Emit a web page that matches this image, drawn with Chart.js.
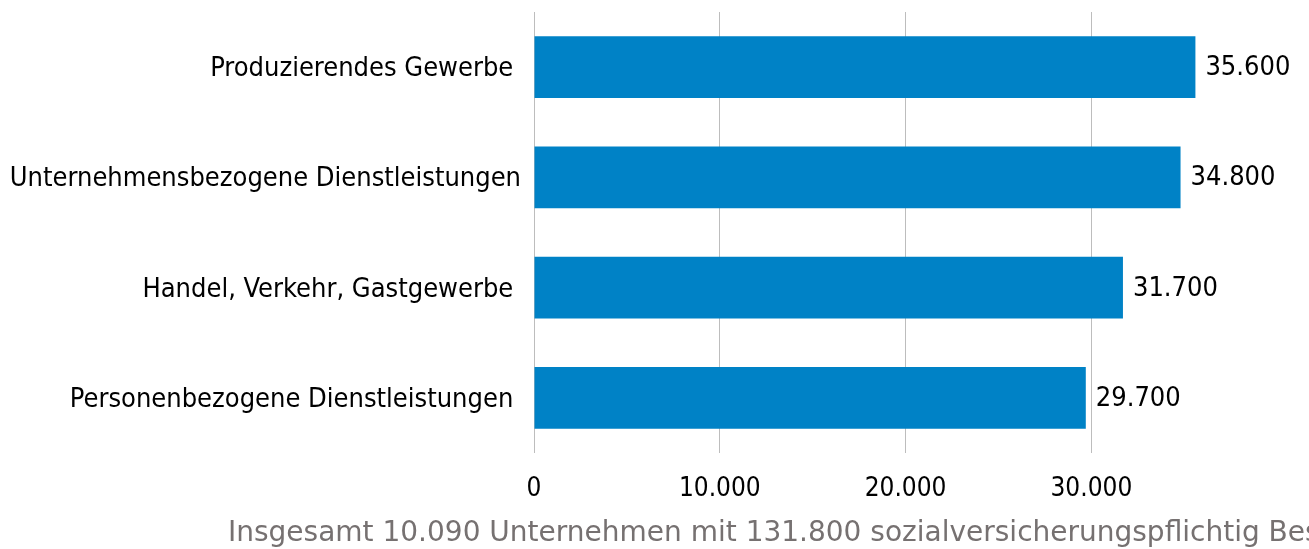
<!DOCTYPE html>
<html>
<head>
<meta charset="utf-8">
<script src="https://cdn.jsdelivr.net/npm/chart.js@4.4.1/dist/chart.umd.min.js"></script>
<style>
  html, body { margin: 0; padding: 0; background: #ffffff; overflow: hidden; }
  #wrap { width: 1309px; height: 549px; position: relative; }
</style>
</head>
<body>
<div id="wrap"><canvas id="c"></canvas></div>
<script>
const categories = [
  "Produzierendes Gewerbe ",
  "Unternehmensbezogene Dienstleistungen",
  "Handel, Verkehr, Gastgewerbe ",
  "Personenbezogene Dienstleistungen "
];
const values = [35600, 34800, 31700, 29700];
const tickValues = [0, 10000, 20000, 30000];
const caption = "Insgesamt 10.090 Unternehmen mit 131.800 sozialversicherungspflichtig Beschäftigten";

const FONT = "'DejaVu Sans Condensed', 'DejaVu Sans', sans-serif";
const CAPTION_FONT = "'DejaVu Sans', sans-serif";

function fmt(v) {
  return String(Math.round(v)).replace(/\B(?=(\d{3})+(?!\d))/g, ".");
}

const valueLabels = {
  id: "valueLabels",
  afterDatasetsDraw(chart) {
    const ctx = chart.ctx;
    const meta = chart.getDatasetMeta(0);
    ctx.save();
    ctx.font = "27px " + FONT;
    ctx.fillStyle = "#000000";
    ctx.textAlign = "left";
    ctx.textBaseline = "middle";
    meta.data.forEach((bar, i) => {
      ctx.fillText(fmt(values[i]), bar.x + 10, bar.y + 1);
    });
    ctx.restore();
  }
};

const captionPlugin = {
  id: "captionPlugin",
  afterDraw(chart) {
    const ctx = chart.ctx;
    ctx.save();
    ctx.font = "28px " + CAPTION_FONT;
    ctx.fillStyle = "#767171";
    ctx.textAlign = "left";
    ctx.textBaseline = "middle";
    ctx.fillText(caption, chart.chartArea.left - 306, 534);
    ctx.restore();
  }
};

new Chart(document.getElementById("c"), {
  type: "bar",
  data: {
    labels: categories,
    datasets: [{
      data: values,
      backgroundColor: "#0082c6",
      borderWidth: 0,
      categoryPercentage: 1.0,
      barPercentage: 0.56
    }]
  },
  options: {
    indexAxis: "y",
    responsive: true,
    maintainAspectRatio: false,
    animation: false,
    layout: { padding: { top: 12, right: 69, bottom: 0, left: 0 } },
    plugins: { legend: { display: false }, tooltip: { enabled: false } },
    scales: {
      x: {
        min: 0,
        max: 38000,
        afterFit(scale) { scale.height = 96; scale.paddingLeft = 0; scale.paddingRight = 0; },
        afterBuildTicks(scale) { scale.ticks = tickValues.map(v => ({ value: v })); },
        grid: { color: "#bdbdbd", lineWidth: 1, drawTicks: false },
        border: { display: false },
        ticks: {
          padding: 21,
          color: "#000000",
          font: { family: FONT, size: 26 },
          callback: (v) => fmt(v),
          maxRotation: 0
        }
      },
      y: {
        afterFit(scale) { scale.width = 534; scale.paddingTop = 0; scale.paddingBottom = 0; },
        grid: { display: false, drawTicks: false },
        border: { display: false },
        ticks: {
          padding: 13,
          labelOffset: 2,
          color: "#000000",
          font: { family: FONT, size: 27 }
        }
      }
    }
  },
  plugins: [valueLabels, captionPlugin]
});
</script>
</body>
</html>
